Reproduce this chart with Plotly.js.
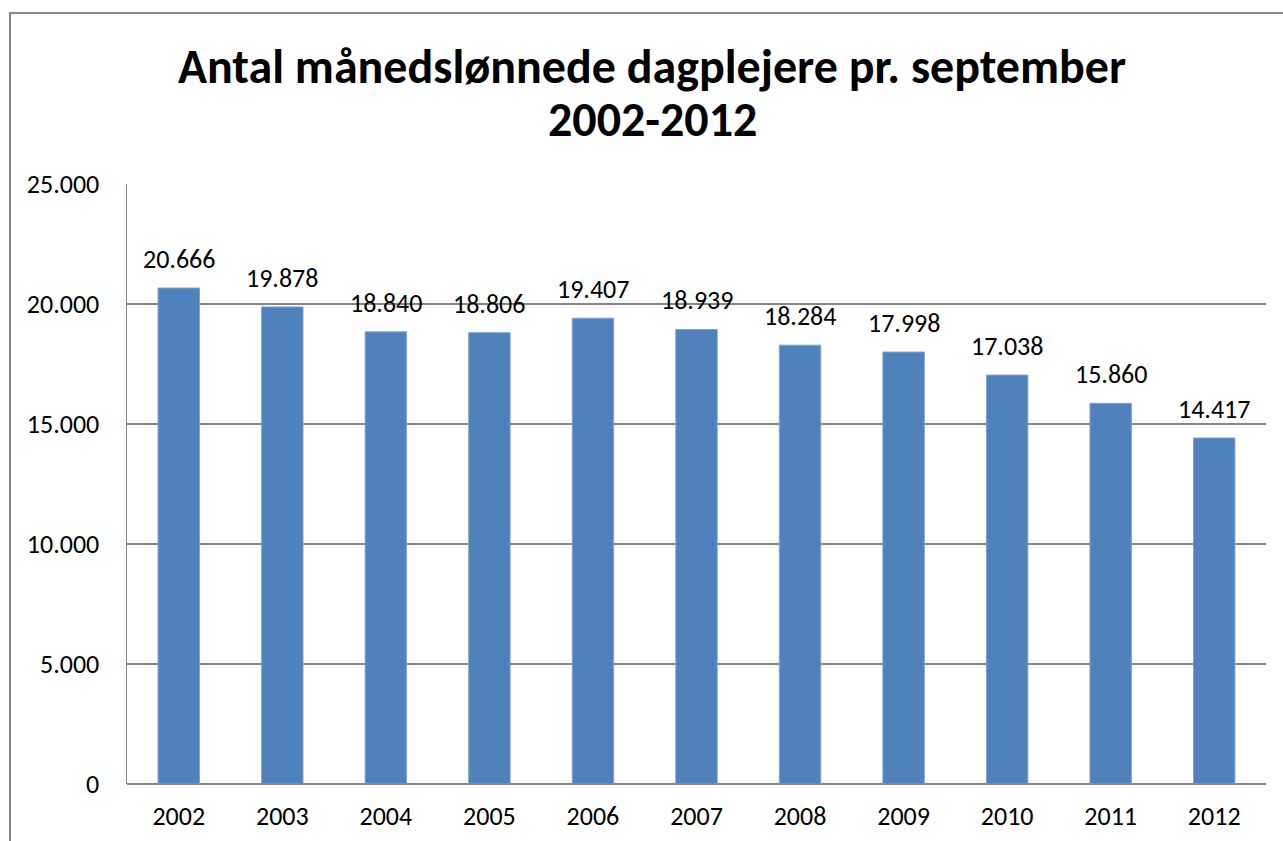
<!DOCTYPE html>
<html>
<head>
<meta charset="utf-8">
<script src="https://cdn.plot.ly/plotly-3.0.1.min.js"></script>
<style>html,body{margin:0;padding:0;background:#fff;overflow:hidden}#chart{width:1283px;height:841px}</style>
</head>
<body>
<div id="chart"></div>
<script>
const years = ['2002','2003','2004','2005','2006','2007','2008','2009','2010','2011','2012'];
const values = [20666, 19878, 18840, 18806, 19407, 18939, 18284, 17998, 17038, 15860, 14417];
const labels = ['20.666','19.878','18.840','18.806','19.407','18.939','18.284','17.998','17.038','15.860','14.417'];
const tickVals = [0, 5000, 10000, 15000, 20000, 25000];
const tickText = ['0', '5.000', '10.000', '15.000', '20.000', '25.000'];
const titleLine1 = 'Antal månedslønnede dagplejere pr. september';
const titleLine2 = '2002-2012';

const font = 'Carlito, Calibri, Lato, "Open Sans", sans-serif';

const trace = {
  type: 'bar',
  x: years,
  y: values,
  marker: {color: '#4F81BD', line: {color: '#7ea1cf', width: 1}},
  hoverinfo: 'x+y'
};

const valueAnnotations = years.map((yr, i) => ({
  x: i, y: values[i], xref: 'x', yref: 'y',
  text: labels[i], showarrow: false,
  xanchor: 'center', yanchor: 'middle', yshift: 29,
  font: {family: font, size: 26, color: '#000'}
}));

const layout = {
  width: 1283, height: 841,
  margin: {l: 127, r: 17, t: 184, b: 57},
  paper_bgcolor: '#fff', plot_bgcolor: '#fff',
  bargap: 0.6,
  showlegend: false,
  title: {
    text: '<b>' + titleLine1 + '</b>',
    font: {family: font, size: 48, color: '#000'},
    x: 652 / 1283, xanchor: 'center', xref: 'container',
    y: 1 - 66 / 841, yanchor: 'middle'
  },
  annotations: valueAnnotations.concat([{
    x: (652 - 127) / 1139, y: (784 - 120) / 600, xref: 'paper', yref: 'paper',
    text: '<b>' + titleLine2 + '</b>', showarrow: false,
    xanchor: 'center', yanchor: 'middle',
    font: {family: font, size: 48, color: '#000'}
  }]),
  xaxis: {
    type: 'category',
    tickfont: {family: font, size: 26, color: '#000'},
    showline: false, ticks: '', showgrid: false, zeroline: false,
    ticklabelstandoff: 14
  },
  yaxis: {
    range: [0, 25000],
    tickvals: tickVals, ticktext: tickText,
    tickfont: {family: font, size: 26, color: '#000'},
    showgrid: true, gridcolor: '#868686', gridwidth: 1.5,
    zeroline: true, zerolinecolor: '#868686', zerolinewidth: 1.5,
    showline: true, linecolor: '#868686', linewidth: 1.5,
    ticks: '', ticklabelstandoff: 21, fixedrange: true
  },
  shapes: [{
    type: 'rect', xref: 'paper', yref: 'paper',
    x0: -0.1027, x1: 1.2, y0: -0.2, y1: 1.285,
    line: {color: '#878787', width: 2}, fillcolor: 'rgba(0,0,0,0)', layer: 'below'
  }]
};

Plotly.newPlot('chart', [trace], layout, {displayModeBar: false, staticPlot: true});
</script>
</body>
</html>
